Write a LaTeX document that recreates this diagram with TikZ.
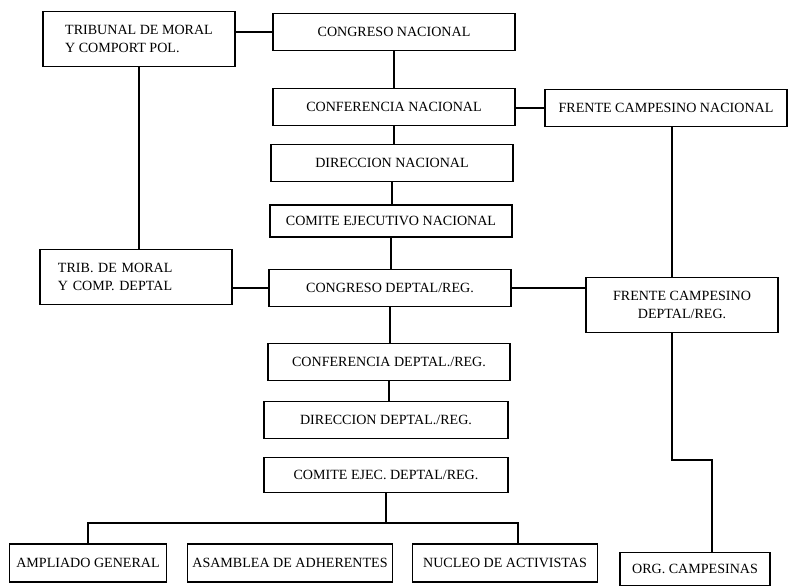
\documentclass[tikz,border=0pt]{standalone}
\usepackage{fontspec}
\setmainfont{Liberation Serif}
\usepackage{tikz}
\usetikzlibrary{positioning}

\begin{document}
\begin{tikzpicture}[
    x=0.025cm, y=-0.025cm,
    box/.style={rectangle, draw, line width=0.9pt, inner sep=2pt,
                minimum width=6.05cm, minimum height=0.92cm,
                align=center, font=\fontsize{10}{12.5}\selectfont},
    tall/.style={box, minimum width=4.8cm, minimum height=1.37cm},
    low/.style={box, minimum height=0.95cm},
    link/.style={line width=0.9pt},
]
\useasboundingbox (0,0) rectangle (789,586);

% ── National level ────────────────────────────────────────────────
\node[tall, align=left] (tribnac) at (139,39)  {TRIBUNAL DE MORAL\\Y COMPORT POL.};
\node[box]  (congnac)   at (394,32)  {CONGRESO NACIONAL};
\node[box]  (confnac)   at (394,107) {CONFERENCIA NACIONAL};
\node[box]  (frentenac) at (666,108) {FRENTE CAMPESINO NACIONAL};
\node[box]  (dirnac)    at (392,163) {DIRECCION NACIONAL};
\node[box, minimum height=0.8cm]
            (comnac)    at (391,221) {COMITE EJECUTIVO NACIONAL};

% ── Departmental level ────────────────────────────────────────────
\node[tall, align=left, text width=3.9cm] (tribdep) at (136,277) {TRIB. DE MORAL\\Y COMP. DEPTAL};
\node[box]  (congdep)   at (390,288) {CONGRESO DEPTAL/REG.};
\node[tall] (frentedep) at (682,305) {FRENTE CAMPESINO\\DEPTAL/REG.};
\node[box]  (confdep)   at (389,362) {CONFERENCIA DEPTAL./REG.};
\node[box, minimum width=6.1cm]
            (dirdep)    at (386,420) {DIRECCION DEPTAL./REG.};
\node[box, minimum width=6.1cm, minimum height=0.87cm]
            (comdep)    at (386,475) {COMITE EJEC. DEPTAL/REG.};

% ── Base ──────────────────────────────────────────────────────────
\node[low, minimum width=3.92cm]  (ampliado) at (88,563)  {AMPLIADO GENERAL};
\node[low, minimum width=5.12cm]  (asamblea) at (290,563) {ASAMBLEA DE ADHERENTES};
\node[low, minimum width=4.62cm]  (nucleo)   at (505,563) {NUCLEO DE ACTIVISTAS};
\node[low, minimum width=3.75cm, minimum height=0.82cm]
                                  (orgcamp)  at (695,569) {ORG. CAMPESINAS};

% ── Connectors ────────────────────────────────────────────────────
\coordinate (fcol)  at (672,0);
\coordinate (busR)  at (518,523);
\coordinate (elbow) at (712,460);

% central column
\draw[link] (congnac.south) -- (congnac.south |- confnac.north);
\draw[link] (confnac.south) -- (confnac.south |- dirnac.north);
\draw[link] (dirnac.south)  -- (dirnac.south |- comnac.north);
\draw[link] (comnac.south)  -- (comnac.south |- congdep.north);
\draw[link] (congdep.south) -- (congdep.south |- confdep.north);
\draw[link] (confdep.south) -- (confdep.south |- dirdep.north);

% tribunals
\draw[link] (tribnac.east |- congnac.west) -- (congnac.west);
\draw[link] (tribnac.south) -- (tribnac.south |- tribdep.north);
\draw[link] (tribdep.east |- congdep.west) -- (congdep.west);

% peasant fronts
\draw[link] (confnac.east |- frentenac.west) -- (frentenac.west);
\draw[link] (congdep.east) -- (congdep.east -| frentedep.west);
\draw[link] (frentenac.south -| fcol) -- (frentedep.north -| fcol);
\draw[link] (frentedep.south -| fcol) |- (elbow) -- (elbow |- orgcamp.north);

% base bus
\draw[link] (comdep.south) -- (comdep.south |- busR);
\draw[link] (ampliado.north) |- (busR) -- (busR |- nucleo.north);

\end{tikzpicture}
\end{document}
